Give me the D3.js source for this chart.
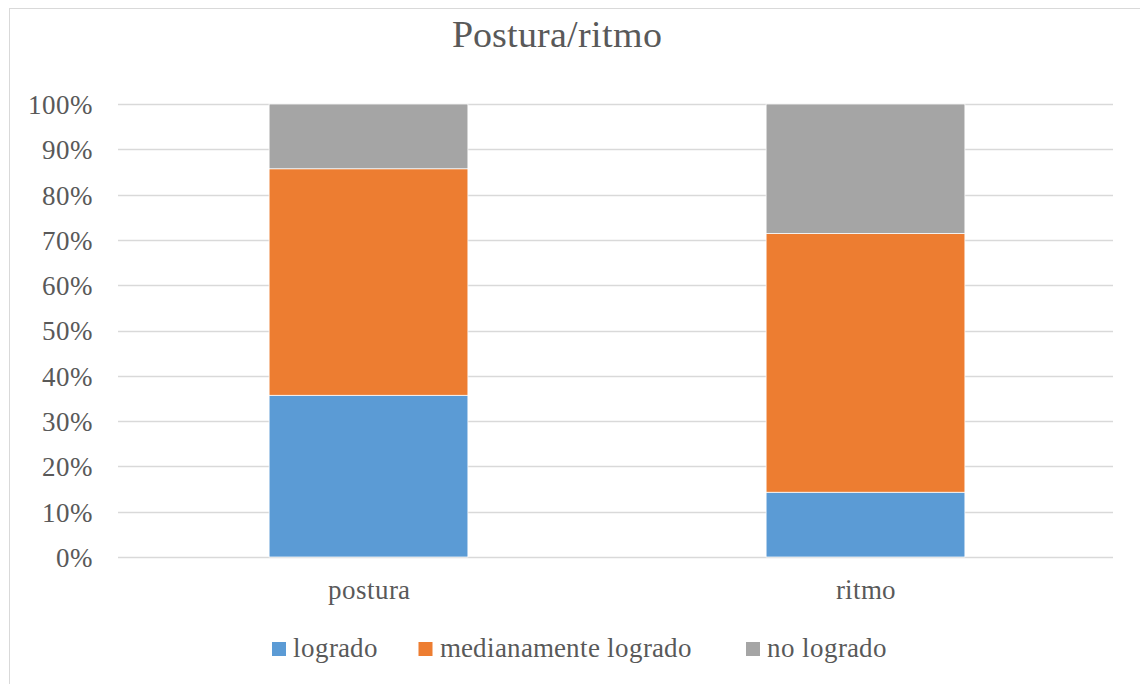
<!DOCTYPE html>
<html>
<head>
<meta charset="utf-8">
<script src="https://cdn.jsdelivr.net/npm/d3@7"></script>
<style>
  @font-face {
    font-family: "ChartSerif";
    src: local("Liberation Serif"), local("LiberationSerif"), local("Times New Roman"), local("Tinos");
    font-display: swap;
  }
  body { margin: 0; background: #fff; }
  #chart text { font-family: ChartSerif, "Liberation Serif", serif; }
</style>
</head>
<body>
<svg id="chart" width="1140" height="684"></svg>
<script>
// Share of students per achievement level
const categories = ["postura", "ritmo"];
const seriesNames = ["logrado", "medianamente logrado", "no logrado"];
const logrado = [0.357, 0.143];
const medianamente = [0.500, 0.571];
const noLogrado = [0.143, 0.286];
const tickValues = [0, 0.1, 0.2, 0.3, 0.4, 0.5, 0.6, 0.7, 0.8, 0.9, 1.0];
const colors = ["#5b9bd5", "#ed7d31", "#a5a5a5"];

const FONT = "ChartSerif, Liberation Serif, serif";
const TEXT = "#595959";
const LABEL_SIZE = 27;

const rows = categories.map((c, i) => ({
  cat: c,
  "logrado": logrado[i],
  "medianamente logrado": medianamente[i],
  "no logrado": noLogrado[i]
}));

const svg = d3.select("#chart");

// Chart frame
svg.append("rect")
  .attr("x", 9.5).attr("y", 8.5)
  .attr("width", 1140).attr("height", 690)
  .attr("fill", "#fff").attr("stroke", "#d9d9d9").attr("stroke-width", 1);

const plot = { left: 118, right: 1113, top: 104, bottom: 557 };

const x = d3.scaleBand().domain(categories)
  .range([plot.left + 2, plot.right + 1]).paddingInner(0.6).paddingOuter(0.3);
const y = d3.scaleLinear().domain([0, 1]).range([plot.bottom, plot.top]);

// Gridlines
svg.append("g").selectAll("line").data(tickValues).join("line")
  .attr("x1", plot.left).attr("x2", plot.right)
  .attr("y1", d => Math.round(y(d)) + 0.5).attr("y2", d => Math.round(y(d)) + 0.5)
  .attr("stroke", "#d9d9d9").attr("stroke-width", 1.5);

// Y axis labels
const yAxis = d3.axisLeft(y).tickValues(tickValues).tickFormat(d3.format(".0%")).tickSize(0).tickPadding(0);
const yg = svg.append("g").attr("transform", `translate(92,0)`).call(yAxis)
  .attr("font-family", FONT).attr("font-size", LABEL_SIZE);
yg.select(".domain").remove();
yg.selectAll("text").attr("font-family", FONT).attr("font-size", LABEL_SIZE)
  .attr("fill", TEXT).attr("dy", "0.35em");

// Stacked bars
const stack = d3.stack().keys(seriesNames);
const layers = stack(rows);
svg.append("g").selectAll("g").data(layers).join("g")
  .attr("fill", (d, i) => colors[i])
  .selectAll("rect").data(d => d).join("rect")
  .attr("x", d => x(d.data.cat))
  .attr("width", x.bandwidth())
  .attr("y", d => y(d[1]))
  .attr("height", d => y(d[0]) - y(d[1]))
  .attr("stroke", "#fff").attr("stroke-width", 0.75);

// X axis labels
const xAxis = d3.axisBottom(x).tickSize(0).tickPadding(0);
const xg = svg.append("g").attr("transform", `translate(0,${plot.bottom + 42})`).call(xAxis)
  .attr("font-family", FONT).attr("font-size", LABEL_SIZE);
xg.select(".domain").remove();
xg.selectAll("text").attr("font-family", FONT).attr("font-size", LABEL_SIZE)
  .attr("fill", TEXT).attr("dy", 0);

// Title
svg.append("text").attr("x", 557).attr("y", 47).attr("text-anchor", "middle")
  .attr("font-family", FONT).attr("font-size", 38).attr("fill", TEXT)
  .text("Postura/ritmo");

// Legend
const legendItems = [
  { name: seriesNames[0], x: 272 },
  { name: seriesNames[1], x: 418.5 },
  { name: seriesNames[2], x: 746 }
];
const lg = svg.append("g").selectAll("g").data(legendItems).join("g")
  .attr("transform", d => `translate(${d.x},0)`);
lg.append("rect").attr("x", 0).attr("y", 642).attr("width", 14).attr("height", 14)
  .attr("fill", (d, i) => colors[i]);
lg.append("text").attr("x", 21).attr("y", 657)
  .attr("font-family", FONT).attr("font-size", LABEL_SIZE).attr("fill", TEXT)
  .text(d => d.name);

// Re-apply the font once the face is available so every label picks it up
if (document.fonts && document.fonts.load) {
  document.fonts.load(`${LABEL_SIZE}px ChartSerif`).then(() => {
    svg.selectAll("text").attr("font-family", FONT);
  }).catch(() => {});
}
</script>
</body>
</html>
